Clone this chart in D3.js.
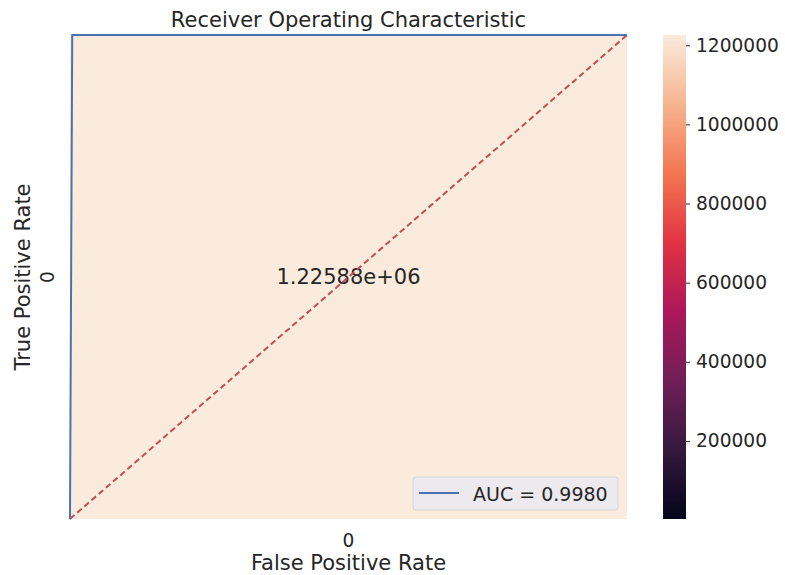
<!DOCTYPE html>
<html>
<head>
<meta charset="utf-8">
<script src="https://cdn.jsdelivr.net/npm/d3@7"></script>
<style>
  html, body { margin: 0; padding: 0; background: #fff; }
  svg text { font-family: "DejaVu Sans", sans-serif; fill: #262626; }
</style>
</head>
<body>
<svg id="chart" width="785" height="575"></svg>
<script>
// Heatmap cell (single confusion value) and its labels
const rowLabels = ["0"];
const colLabels = ["0"];
const cellValues = [[1225880]];
const cellText = ["1.22588e+06"];

// ROC curve
const fpr = [0, 0.004, 1];
const tpr = [0, 1, 1];
const aucLabel = "AUC = 0.9980";
const chanceX = [0, 1];
const chanceY = [0, 1];

// Colorbar ticks
const cbarTicks = [200000, 400000, 600000, 800000, 1000000, 1200000];
const cbarDomain = [2700, 1225880];

// rocket colour map stops
const rocketStops = ["#03051a", "#35193e", "#701f57", "#ad1759", "#e13342", "#f37651", "#f6b48f", "#faebdd"];

const svg = d3.select("#chart");
const plot = { left: 70, right: 627, top: 35, bottom: 519 };
const labelSize = 21, tickSize = 18.6;

const rocket = d3.scaleLinear()
  .domain(d3.range(rocketStops.length).map(i => i / (rocketStops.length - 1)))
  .range(rocketStops)
  .interpolate(d3.interpolateRgb);
const norm = d3.scaleLinear().domain(cbarDomain).range([0, 1]).clamp(true);
const colour = v => rocket(norm(v));

// Heatmap band scales
const xBand = d3.scaleBand().domain(colLabels).range([plot.left, plot.right]);
const yBand = d3.scaleBand().domain(rowLabels).range([plot.top, plot.bottom]);

rowLabels.forEach((r, i) => {
  colLabels.forEach((c, j) => {
    svg.append("rect")
      .attr("x", xBand(c)).attr("y", yBand(r))
      .attr("width", xBand.bandwidth()).attr("height", yBand.bandwidth())
      .attr("fill", colour(cellValues[i][j]));
    svg.append("text")
      .attr("x", xBand(c) + xBand.bandwidth() / 2)
      .attr("y", yBand(r) + yBand.bandwidth() / 2)
      .attr("text-anchor", "middle").attr("dominant-baseline", "central")
      .attr("font-size", labelSize)
      .text(cellText[i * colLabels.length + j]);
  });
});

// Tick labels of the heatmap
colLabels.forEach(c => {
  svg.append("text")
    .attr("x", xBand(c) + xBand.bandwidth() / 2).attr("y", 547)
    .attr("text-anchor", "middle").attr("font-size", tickSize)
    .text(c);
});
rowLabels.forEach(r => {
  const cy = yBand(r) + yBand.bandwidth() / 2;
  svg.append("text")
    .attr("transform", `translate(54,${cy}) rotate(-90)`)
    .attr("text-anchor", "middle").attr("font-size", tickSize)
    .text(r);
});

// ROC overlay on unit scales
const x = d3.scaleLinear().domain([0, 1]).range([plot.left, plot.right]);
const y = d3.scaleLinear().domain([0, 1]).range([plot.bottom, plot.top]);
const line = d3.line().x(d => x(d[0])).y(d => y(d[1]));

svg.append("path")
  .datum(chanceX.map((v, i) => [v, chanceY[i]]))
  .attr("d", line).attr("fill", "none")
  .attr("stroke", "#c44e52").attr("stroke-width", 2)
  .attr("stroke-dasharray", "6,3.5");

svg.append("path")
  .datum(fpr.map((v, i) => [v, tpr[i]]))
  .attr("d", line).attr("fill", "none")
  .attr("stroke", "#4c72b0").attr("stroke-width", 2);

// Legend
const lg = svg.append("g").attr("transform", "translate(413,477)");
lg.append("rect").attr("width", 205).attr("height", 33).attr("rx", 3)
  .attr("fill", "#eaeaf2").attr("fill-opacity", 0.85)
  .attr("stroke", "#d6d6d6").attr("stroke-width", 1);
lg.append("line").attr("x1", 6).attr("x2", 46).attr("y1", 16).attr("y2", 16)
  .attr("stroke", "#4c72b0").attr("stroke-width", 2);
lg.append("text").attr("x", 60).attr("y", 17)
  .attr("dominant-baseline", "central").attr("font-size", 19)
  .text(aucLabel);

// Titles
svg.append("text").attr("x", (plot.left + plot.right) / 2).attr("y", 27)
  .attr("text-anchor", "middle").attr("font-size", labelSize)
  .text("Receiver Operating Characteristic");
svg.append("text").attr("x", (plot.left + plot.right) / 2).attr("y", 570)
  .attr("text-anchor", "middle").attr("font-size", labelSize)
  .text("False Positive Rate");
svg.append("text")
  .attr("transform", `translate(30,${(plot.top + plot.bottom) / 2}) rotate(-90)`)
  .attr("text-anchor", "middle").attr("font-size", labelSize)
  .text("True Positive Rate");

// Colorbar
const cb = { left: 663, width: 23 };
const cbY = d3.scaleLinear().domain(cbarDomain).range([plot.bottom, plot.top]);
const defs = svg.append("defs");
const grad = defs.append("linearGradient").attr("id", "rocketGrad")
  .attr("x1", 0).attr("y1", 1).attr("x2", 0).attr("y2", 0);
rocketStops.forEach((c, i) => {
  grad.append("stop").attr("offset", i / (rocketStops.length - 1)).attr("stop-color", c);
});
svg.append("rect").attr("x", cb.left).attr("y", plot.top)
  .attr("width", cb.width).attr("height", plot.bottom - plot.top)
  .attr("fill", "url(#rocketGrad)");

const cbAxis = d3.axisRight(cbY).tickValues(cbarTicks).tickSize(4).tickPadding(6)
  .tickFormat(d3.format("d"));
const cbG = svg.append("g").attr("transform", `translate(${cb.left + cb.width},0)`).call(cbAxis);
cbG.select(".domain").remove();
cbG.selectAll(".tick line").attr("stroke", "#262626").attr("stroke-width", 1);
cbG.selectAll(".tick text").attr("font-size", tickSize).attr("font-family", "DejaVu Sans, sans-serif").attr("fill", "#262626");
</script>
</body>
</html>
